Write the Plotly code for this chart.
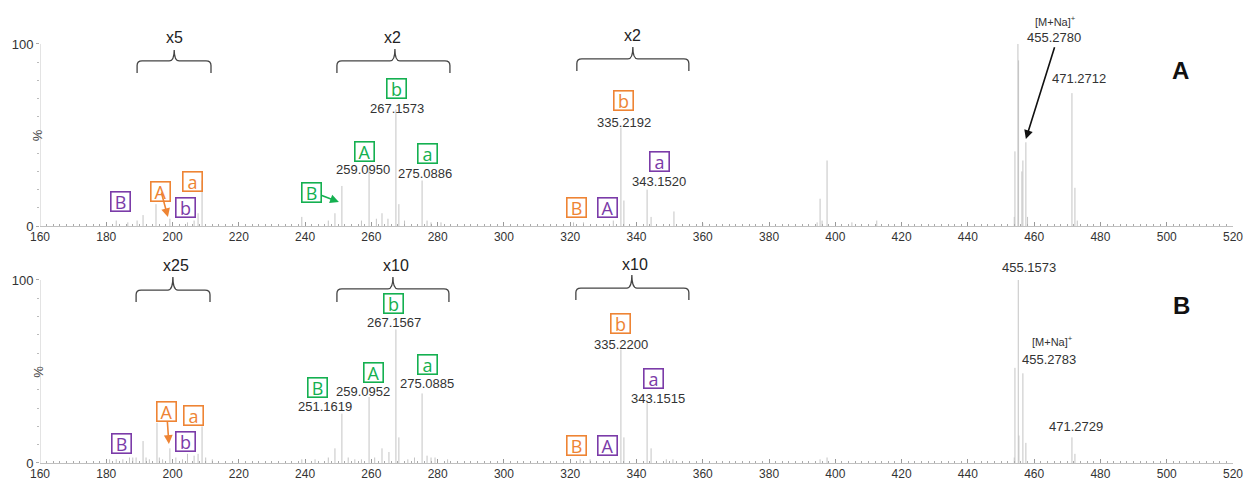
import plotly.graph_objects as go

# ---------------- data ----------------
top_mz = [183.0, 186.5, 189.3, 191.1, 195.0, 199.2, 204.5, 206.5, 207.7, 208.9,
          239.0, 247.0, 249.0, 251.1, 257.0, 259.3, 261.5, 263.2, 265.0, 267.4, 268.3, 270.0,
          275.3, 276.8, 278.0, 281.0,
          321.0, 324.0, 333.0, 335.3, 336.2, 343.2, 344.4, 351.3, 360.0,
          394.5, 395.4, 396.0, 397.5, 405.0, 412.5,
          454.0, 454.2, 455.1, 455.3, 456.3, 456.6, 457.5, 458.0, 471.4, 472.3, 473.0]
top_int = [3, 2, 3, 6, 12, 4, 2, 3, 7, 25,
           5, 3, 7, 22, 3, 32, 4, 7, 4, 64, 12, 3,
           25, 3, 2, 2,
           2, 2, 3, 54, 14, 20, 5, 8, 1.5,
           2, 15, 3, 36, 2, 3,
           5, 41, 100, 91, 30, 36, 46, 5, 73, 21, 3]

bot_mz = [181.0, 183.0, 185.0, 187.0, 188.0, 189.0, 191.1, 192.0, 193.0, 195.3, 196.0, 197.0,
          199.2, 201.0, 203.0, 204.5, 206.5, 207.7, 208.9, 210.0, 212.0,
          239.0, 243.0, 247.0, 249.0, 251.1, 253.0, 255.0, 257.0, 259.3, 261.0, 263.2, 265.3,
          267.4, 268.3, 271.0, 273.0, 275.3, 276.8, 278.0, 279.2, 283.0,
          323.0, 326.0, 335.3, 336.2, 343.2, 344.4, 349.0, 351.0,
          395.4, 397.5,
          454.0, 454.2, 455.2, 455.4, 456.6, 457.5, 471.4, 472.3]
bot_int = [2, 2, 2, 3, 3, 3, 12, 3, 2, 22, 3, 2,
           8, 3, 2, 5, 4, 5, 20, 3, 2,
           2, 2, 3, 8, 27, 3, 2, 2, 36, 3, 8, 6,
           73, 14, 2, 3, 38, 4, 3, 3, 2,
           2, 2, 62, 14, 33, 8, 2, 2,
           2, 3,
           3, 52, 100, 15, 49, 11, 14, 5]

x_ticks = [160, 180, 200, 220, 240, 260, 280, 300, 320, 340, 360, 380, 400,
           420, 440, 460, 480, 500, 520]

# Fragment labels: (letter, colour key, m/z, y) for each panel
top_boxes = [("B", "purple", 184.4, 13.2), ("A", "orange", 196.5, 19.2),
             ("a", "orange", 205.9, 24.2), ("b", "purple", 203.8, 10.4),
             ("B", "green", 242.0, 18.6), ("A", "green", 257.8, 40.7),
             ("b", "green", 267.7, 75.3), ("a", "green", 276.8, 40.1),
             ("B", "orange", 322.0, 9.9), ("A", "purple", 331.1, 9.9),
             ("b", "orange", 336.2, 68.7), ("a", "purple", 346.8, 35.2)]
bot_boxes = [("B", "purple", 184.7, 10.4), ("A", "orange", 198.3, 27.9),
             ("a", "orange", 206.2, 25.7), ("b", "purple", 203.8, 12.0),
             ("B", "green", 243.6, 41.0), ("A", "green", 260.5, 49.7),
             ("b", "green", 266.8, 87.4), ("a", "green", 276.8, 53.6),
             ("B", "orange", 322.0, 9.8), ("A", "purple", 331.1, 9.8),
             ("b", "orange", 335.3, 76.0), ("a", "purple", 345.0, 45.9)]

top_masses = [("259.0950", 257.5, 30.8), ("267.1573", 267.7, 64.8),
              ("275.0886", 276.2, 28.6), ("335.2192", 336.2, 57.1),
              ("343.1520", 346.8, 24.2), ("455.2780", 466.0, 103.3),
              ("471.2712", 473.5, 80.8)]
bot_masses = [("251.1619", 246.0, 30.6), ("259.0952", 257.5, 39.3),
              ("267.1567", 266.8, 77.0), ("275.0885", 276.8, 43.2),
              ("335.2200", 335.3, 65.0), ("343.1515", 346.5, 35.5),
              ("455.1573", 458.4, 107.0), ("455.2783", 464.5, 56.8),
              ("471.2729", 472.6, 19.7)]

# Braces: (label, left, centre, right, y_horizontal, y_ends, y_tip, label_x, label_y)
top_braces = [("x5", 189.3, 200.5, 211.6, 90.7, 84.1, 96.7, 200.5, 103.3),
              ("x2", 249.6, 267.1, 283.7, 90.7, 84.1, 97.3, 266.5, 103.3),
              ("x2", 322.0, 338.9, 355.8, 91.8, 85.2, 98.4, 338.9, 104.4)]
bot_braces = [("x25", 189.0, 200.1, 211.3, 94.5, 88.0, 101.6, 201.0, 107.7),
              ("x10", 249.6, 266.5, 283.4, 95.1, 88.0, 101.6, 267.5, 107.7),
              ("x10", 321.7, 338.6, 355.8, 95.6, 89.1, 102.7, 339.6, 108.7)]

COLORS = {"purple": "#7B3BA8", "orange": "#EE8434", "green": "#14B050"}
PEAK = "#c4c4c4"
TXT = "#333333"

fig = go.Figure()


def stick(mz, inten):
    xs, ys = [], []
    for m, v in zip(mz, inten):
        xs += [m, m, None]
        ys += [0, v, None]
    return xs, ys


for mz, inten, xa, ya in [(top_mz, top_int, "x", "y"), (bot_mz, bot_int, "x2", "y2")]:
    xs, ys = stick(mz, inten)
    fig.add_trace(go.Scatter(x=xs, y=ys, mode="lines", xaxis=xa, yaxis=ya,
                             line=dict(color=PEAK, width=1), hoverinfo="skip",
                             showlegend=False))

annotations = []
shapes = []


def add_panel(boxes, masses, braces, xr, yr):
    for letter, ck, x, y in boxes:
        c = COLORS[ck]
        annotations.append(dict(x=x, y=y, xref=xr, yref=yr, text=letter, showarrow=False,
                                font=dict(family="Open Sans", size=18, color=c),
                                bordercolor=c, borderwidth=1.6, borderpad=0.4,
                                width=17, height=17, bgcolor="rgba(255,255,255,0)"))
    for t, x, y in masses:
        annotations.append(dict(x=x, y=y, xref=xr, yref=yr, text=t, showarrow=False,
                                font=dict(family="Arial", size=13, color=TXT)))
    for lab, xl, xc, xrr, yh, ye, yt, lx, ly in braces:
        path = (f"M {xl},{ye} L {xl},{yh-2.5} Q {xl},{yh} {xl+1.5},{yh} "
                f"L {xc-1.5},{yh} Q {xc},{yh} {xc},{yt} Q {xc},{yh} {xc+1.5},{yh} "
                f"L {xrr-1.5},{yh} Q {xrr},{yh} {xrr},{yh-2.5} L {xrr},{ye}")
        shapes.append(dict(type="path", path=path, xref=xr, yref=yr,
                           line=dict(color="#444444", width=1.3)))
        annotations.append(dict(x=lx, y=ly, xref=xr, yref=yr, text=lab, showarrow=False,
                                font=dict(family="Arial", size=16, color="#222222")))
    # y axis line from 0 to 100
    shapes.append(dict(type="line", x0=160, x1=160, y0=0, y1=100, xref=xr, yref=yr,
                       line=dict(color="#c8c8c8", width=1)))
    annotations.append(dict(x=-0.0095, y=50, xref="paper", yref=yr, text="%",
                            textangle=-90, showarrow=False,
                            font=dict(family="Arial", size=13, color="#444444")))


add_panel(top_boxes, top_masses, top_braces, "x", "y")
add_panel(bot_boxes, bot_masses, bot_braces, "x2", "y2")

arrow_specs = [
    ("x", "y", 198.6, 4.9, 196.5, 19.2, COLORS["orange"]),
    ("x", "y", 250.2, 13.2, 244.6, 17.0, COLORS["green"]),
    ("x2", "y2", 198.9, 10.4, 198.4, 23.5, COLORS["orange"]),
    ("x", "y", 457.5, 47.8, 466.3, 99.0, "#111111"),
]
for xr, yr, hx, hy, tx, ty, c in arrow_specs:
    annotations.append(dict(x=hx, y=hy, xref=xr, yref=yr, text="", showarrow=True,
                            axref=xr, ayref=yr, ax=tx, ay=ty, arrowcolor=c,
                            arrowhead=2, arrowsize=1.1, arrowwidth=1.6, standoff=0))

annotations += [
    dict(x=466.3, y=112.5, xref="x", yref="y", text="[M+Na]<sup>+</sup>", showarrow=False,
         font=dict(family="Arial", size=11, color=TXT)),
    dict(x=465.4, y=66.7, xref="x2", yref="y2", text="[M+Na]<sup>+</sup>", showarrow=False,
         font=dict(family="Arial", size=11, color=TXT)),
    dict(x=504.3, y=85.2, xref="x", yref="y", text="<b>A</b>", showarrow=False,
         font=dict(family="Arial", size=24, color="#111111")),
    dict(x=504.6, y=86.3, xref="x2", yref="y2", text="<b>B</b>", showarrow=False,
         font=dict(family="Arial", size=24, color="#111111")),
]

xaxis_common = dict(range=[160, 520], tickvals=x_ticks, ticks="inside", ticklen=4,
                    tickcolor="#999999", showline=True, linecolor="#c0c0c0", linewidth=1,
                    showgrid=False, zeroline=False, automargin=False,
                    tickfont=dict(family="Arial", size=12, color=TXT),
                    minor=dict(dtick=2, ticks="inside", ticklen=2, tickcolor="#aaaaaa"))
yaxis_common = dict(range=[0, 115], tickvals=[0, 100], ticks="outside", ticklen=3,
                    tickcolor="#aaaaaa", showline=False, showgrid=False, zeroline=False,
                    automargin=False,
                    tickfont=dict(family="Arial", size=13, color=TXT),
                    minor=dict(tickvals=list(range(10, 100, 10)), ticks="outside",
                               ticklen=2, tickcolor="#bbbbbb"))

fig.update_layout(
    width=1253, height=485,
    margin=dict(l=40, r=20, t=0, b=0),
    paper_bgcolor="white", plot_bgcolor="white",
    xaxis=dict(**xaxis_common, anchor="y", domain=[0, 1]),
    yaxis=dict(**yaxis_common, anchor="x", domain=[0.534, 0.9656]),
    xaxis2=dict(**xaxis_common, anchor="y2", domain=[0, 1]),
    yaxis2=dict(**yaxis_common, anchor="x2", domain=[0.0454, 0.4793]),
    annotations=annotations,
    shapes=shapes,
    showlegend=False,
)

fig.write_html("out.html", config={"displayModeBar": False},
               post_script="document.body.style.margin='0';document.body.style.overflow='hidden';")
